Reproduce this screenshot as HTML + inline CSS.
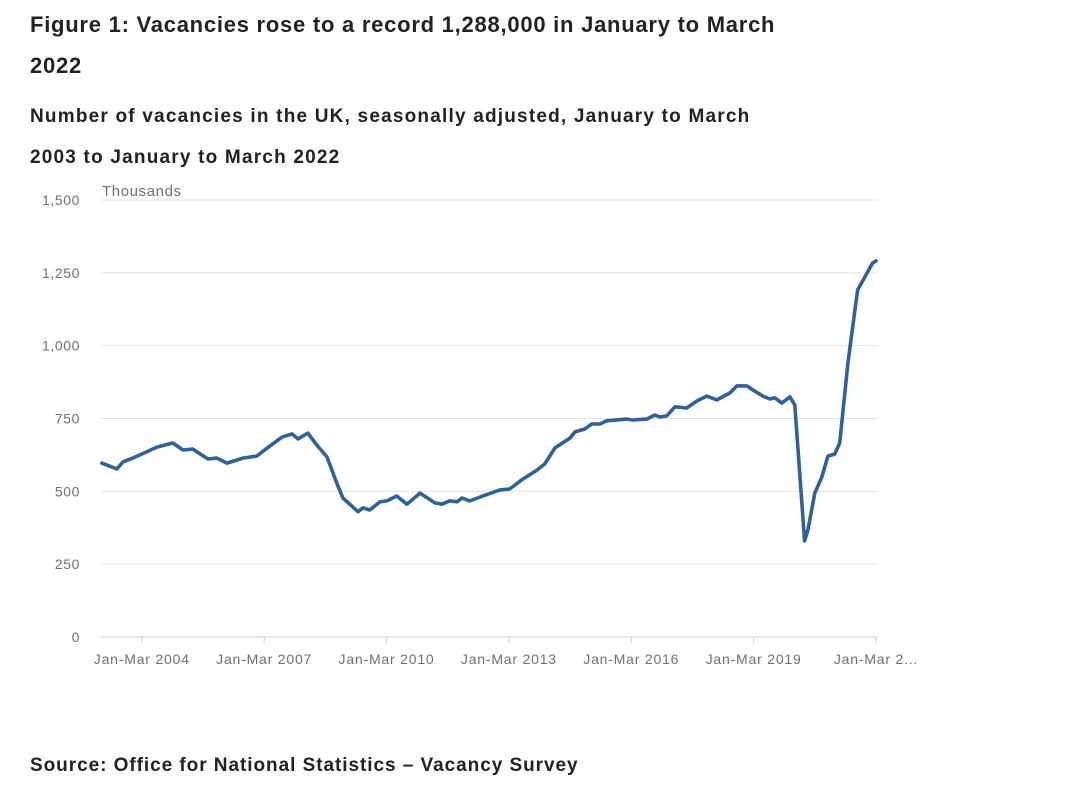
<!DOCTYPE html>
<html><head><meta charset="utf-8"><style>
body{margin:0;background:#fff;font-family:"Liberation Sans",sans-serif;}
#wrap{position:relative;width:1080px;height:799px;overflow:hidden;}
.t{position:absolute;left:30px;color:#222;font-weight:bold;margin:0;white-space:nowrap;}
</style></head><body>
<div id="wrap">
<h1 class="t" style="top:4px;font-size:22px;line-height:41px;letter-spacing:0.75px">Figure 1: Vacancies rose to a record 1,288,000 in January to March<br>2022</h1>
<h2 class="t" style="top:96px;font-size:19px;line-height:41px;letter-spacing:1.2px">Number of vacancies in the UK, seasonally adjusted, January to March<br>2003 to January to March 2022</h2>
<svg id="chart" width="1080" height="799" style="position:absolute;left:0;top:0">
<defs><clipPath id="cp"><rect x="0" y="185" width="1080" height="620"/></clipPath></defs>
<g id="grid"></g><g id="axes" clip-path="url(#cp)"></g><g id="plot"></g>
</svg>
<div class="t" style="top:755px;font-size:19px;letter-spacing:0.95px">Source: Office for National Statistics – Vacancy Survey</div>
</div>
<script>
const dates=[2003.02,2003.39,2003.54,2003.78,2004.37,2004.76,2005.01,2005.25,2005.62,2005.84,2006.09,2006.48,2006.82,2007.07,2007.44,2007.68,2007.83,2008.07,2008.29,2008.54,2008.78,2008.93,2009.30,2009.42,2009.59,2009.84,2010.01,2010.25,2010.50,2010.82,2011.19,2011.36,2011.55,2011.73,2011.85,2012.04,2012.36,2012.78,2013.02,2013.34,2013.69,2013.88,2014.13,2014.50,2014.62,2014.86,2015.03,2015.23,2015.40,2015.89,2016.04,2016.38,2016.58,2016.70,2016.87,2017.07,2017.36,2017.61,2017.85,2018.10,2018.42,2018.59,2018.83,2018.98,2019.23,2019.40,2019.52,2019.69,2019.89,2020.01,2020.25,2020.33,2020.50,2020.67,2020.82,2020.99,2021.11,2021.31,2021.55,2021.92,2022.00];
const vacancies=[597,577,601,614,652,666,642,645,611,614,597,614,621,648,686,697,680,700,659,618,528,477,430,443,436,464,467,484,456,494,460,456,467,464,477,467,484,505,508,542,573,594,649,683,704,714,731,731,742,748,745,748,762,755,759,790,786,810,827,814,838,862,862,848,827,817,821,803,824,796,330,367,494,549,621,628,666,940,1191,1284,1291];
const yTicks=[0,250,500,750,1000,1250,1500];
const yTickLabels=["0","250","500","750","1,000","1,250","1,500"];
const xTicks=[2004,2007,2010,2013,2016,2019,2022];
const xTickLabels=["Jan-Mar 2004","Jan-Mar 2007","Jan-Mar 2010","Jan-Mar 2013","Jan-Mar 2016","Jan-Mar 2019","Jan-Mar 2..."];
const X0=101,X1=876,Y0=637,Y1=200;
const xs=d=>X0+(d-2003)/(2022-2003)*(X1-X0);
const ys=v=>Y0-v/1500*(Y0-Y1);
const NS="http://www.w3.org/2000/svg";
function mk(tag,attrs,parent){const e=document.createElementNS(NS,tag);for(const k in attrs)e.setAttribute(k,attrs[k]);parent.appendChild(e);return e;}
const grid=document.getElementById('grid'),axes=document.getElementById('axes'),plot=document.getElementById('plot');
yTicks.forEach((t,i)=>{
 if(t>0){const l=mk('line',{x1:X0,x2:878,y1:ys(t),y2:ys(t),stroke:'#e3e3e3','stroke-width':1},grid);
 
 }
 const tx=mk('text',{x:80,y:ys(t)+5,'text-anchor':'end','font-size':14,'letter-spacing':0.6,fill:'#707071','font-family':'Liberation Sans, sans-serif'},grid);
 tx.textContent=yTickLabels[i];
 
 
});
const ax=mk('line',{x1:X0,x2:878,y1:Y0,y2:Y0,stroke:'#cfcfcf','stroke-width':1},grid);


xTicks.forEach((t,i)=>{
 const tk=mk('line',{x1:xs(t),x2:xs(t),y1:Y0,y2:Y0+6,stroke:'#cfcfcf'},grid);
 
 
 const tx=mk('text',{x:xs(t),y:664,'text-anchor':'middle','font-size':14,'letter-spacing':0.8,fill:'#707071','font-family':'Liberation Sans, sans-serif'},grid);
 tx.textContent=xTickLabels[i];
 
 
});
const un=mk('text',{x:102,y:196,'font-size':15,'letter-spacing':0.6,fill:'#707071','font-family':'Liberation Sans, sans-serif'},axes);
un.textContent='Thousands';


const p=mk('path',{d:dates.map((d,i)=>(i?'L':'M')+xs(d).toFixed(1)+','+ys(vacancies[i]).toFixed(1)).join(''),fill:'none',stroke:'#326195','stroke-width':3.6,'stroke-linejoin':'round','stroke-linecap':'round'},plot);


</script>
</body></html>
